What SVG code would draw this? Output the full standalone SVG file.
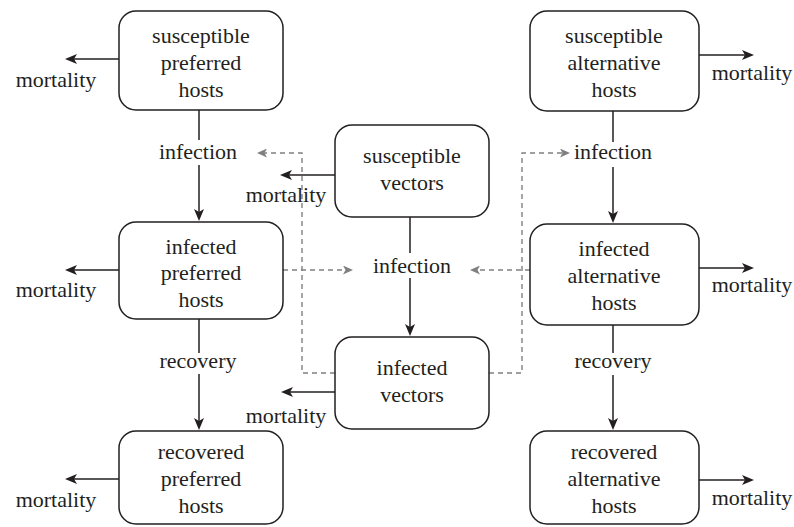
<svg xmlns="http://www.w3.org/2000/svg" width="794" height="527" viewBox="0 0 794 527">
<style>
.box{fill:#fff;stroke:#231f20;stroke-width:1.5}
.t{font-family:"Liberation Serif","Times New Roman",serif;font-size:22px;fill:#231f20;text-anchor:middle}
.ln{fill:none;stroke:#231f20;stroke-width:1.5}
.ar{fill:none;stroke:#231f20;stroke-width:1.5;marker-end:url(#ah)}
.ds{fill:none;stroke:#808080;stroke-width:1.4;stroke-dasharray:5 4;marker-end:url(#gh)}
</style>
<defs>
<marker id="ah" viewBox="0 0 12 10" refX="6" refY="5" markerWidth="12" markerHeight="10" markerUnits="userSpaceOnUse" orient="auto">
<path d="M0,0 L12,5 L0,10 L3,5 z" fill="#231f20"/>
</marker>
<marker id="gh" viewBox="0 0 10 9" refX="5" refY="4.5" markerWidth="10" markerHeight="9" markerUnits="userSpaceOnUse" orient="auto">
<path d="M0,0 L10,4.5 L0,9 L2.5,4.5 z" fill="#808080"/>
</marker>
</defs>
<rect width="794" height="527" fill="#fff"/>

<g id="connectors">
<path class="ds" d="M335,373 H302 V153 H262"/>
<path class="ds" d="M489,373 H522 V153 H565"/>
<path class="ds" d="M283,270 H348"/>
<path class="ds" d="M530,270 H475"/>

<path class="ar" d="M119,59 H71"/>
<path class="ar" d="M335,175 H286"/>
<path class="ar" d="M699,55 H748"/>
<path class="ar" d="M119,270 H71"/>
<path class="ar" d="M699,268 H748"/>
<path class="ar" d="M335,392 H287"/>
<path class="ar" d="M119,479 H71"/>
<path class="ar" d="M699,480 H748"/>

<path class="ln" d="M199,110 V140"/>
<path class="ar" d="M199,165 V215"/>
<path class="ln" d="M199,319 V353"/>
<path class="ar" d="M199,374 V424"/>
<path class="ln" d="M410,217 V253"/>
<path class="ar" d="M410,278 V330"/>
<path class="ln" d="M613,111 V142"/>
<path class="ar" d="M613,167 V217"/>
<path class="ln" d="M613,325 V353"/>
<path class="ar" d="M613,375 V424"/>

<text class="t" x="56" y="87">mortality</text>
<text class="t" x="286" y="202">mortality</text>
<text class="t" x="752" y="80">mortality</text>
<text class="t" x="56" y="297">mortality</text>
<text class="t" x="752" y="292">mortality</text>
<text class="t" x="286" y="423">mortality</text>
<text class="t" x="56" y="507">mortality</text>
<text class="t" x="752" y="505">mortality</text>

<text class="t" x="198" y="159">infection</text>
<text class="t" x="198" y="368">recovery</text>
<text class="t" x="412" y="273">infection</text>
<text class="t" x="613" y="159">infection</text>
<text class="t" x="613" y="368">recovery</text>
</g>

<g id="susceptible-preferred-hosts">
<rect class="box" x="119" y="11" width="164" height="99" rx="17"/>
<text class="t" x="201" y="43">susceptible</text>
<text class="t" x="201" y="70">preferred</text>
<text class="t" x="201" y="97">hosts</text>
</g>
<g id="susceptible-alternative-hosts">
<rect class="box" x="530" y="11" width="169" height="100" rx="17"/>
<text class="t" x="614" y="43">susceptible</text>
<text class="t" x="614" y="70">alternative</text>
<text class="t" x="614" y="97">hosts</text>
</g>
<g id="susceptible-vectors">
<rect class="box" x="335" y="125" width="154" height="92" rx="17"/>
<text class="t" x="412" y="163">susceptible</text>
<text class="t" x="412" y="190">vectors</text>
</g>
<g id="infected-preferred-hosts">
<rect class="box" x="119" y="222" width="164" height="97" rx="17"/>
<text class="t" x="201" y="254">infected</text>
<text class="t" x="201" y="280">preferred</text>
<text class="t" x="201" y="307">hosts</text>
</g>
<g id="infected-alternative-hosts">
<rect class="box" x="530" y="224" width="169" height="101" rx="17"/>
<text class="t" x="614" y="256">infected</text>
<text class="t" x="614" y="283">alternative</text>
<text class="t" x="614" y="310">hosts</text>
</g>
<g id="infected-vectors">
<rect class="box" x="335" y="337" width="154" height="92" rx="17"/>
<text class="t" x="412" y="375">infected</text>
<text class="t" x="412" y="402">vectors</text>
</g>
<g id="recovered-preferred-hosts">
<rect class="box" x="119" y="431" width="164" height="93" rx="17"/>
<text class="t" x="201" y="459">recovered</text>
<text class="t" x="201" y="486">preferred</text>
<text class="t" x="201" y="513">hosts</text>
</g>
<g id="recovered-alternative-hosts">
<rect class="box" x="530" y="431" width="169" height="93" rx="17"/>
<text class="t" x="614" y="459">recovered</text>
<text class="t" x="614" y="486">alternative</text>
<text class="t" x="614" y="513">hosts</text>
</g>
</svg>
